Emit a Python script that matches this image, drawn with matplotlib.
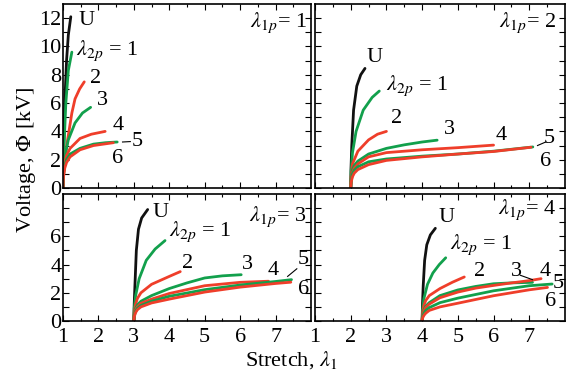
import numpy as np
import matplotlib
matplotlib.use("Agg")
import matplotlib.pyplot as plt

plt.rcParams['font.family'] = ['Liberation Serif', 'DejaVu Serif']
plt.rcParams['mathtext.fontset'] = 'stix'

BLACK = '#111111'
GREEN = '#12a04c'
RED = '#ef3e2a'

# curve order: U, 1, 2, 3, 4, 5, 6
names = ['U', '1', '2', '3', '4', '5', '6']
colors = [BLACK, GREEN, RED, GREEN, RED, GREEN, RED]

# lambda_1p = 1
p1_lam = [
    [1.0, 1.01, 1.03, 1.05, 1.1, 1.15, 1.22],
    [1.0, 1.01, 1.03, 1.08, 1.15, 1.25],
    [1.0, 1.01, 1.05, 1.13, 1.25, 1.34, 1.47, 1.6],
    [1.0, 1.01, 1.05, 1.15, 1.34, 1.55, 1.78],
    [1.0, 1.01, 1.05, 1.1, 1.2, 1.48, 1.8, 2.19],
    [1.0, 1.01, 1.05, 1.1, 1.2, 1.48, 1.86, 2.2, 2.53],
    [1.0, 1.01, 1.05, 1.1, 1.2, 1.48, 1.86, 2.42],
]
p1_phi = [
    [0, 1.5, 4, 6, 9, 10.8, 12.1],
    [0, 1.3, 3, 6, 8.3, 9.6],
    [0, 1.0, 2, 3.4, 5.3, 6.3, 7.0, 7.5],
    [0, 1.0, 2.2, 3.4, 4.6, 5.3, 5.7],
    [0, 0.9, 1.8, 2.3, 2.8, 3.5, 3.8, 4.0],
    [0, 0.8, 1.6, 2.0, 2.4, 2.8, 3.1, 3.2, 3.25],
    [0, 0.7, 1.4, 1.8, 2.2, 2.7, 3.0, 3.2],
]

# lambda_1p = 2
p2_lam = [
    [2.0, 2.01, 2.03, 2.08, 2.17, 2.28, 2.4],
    [2.0, 2.01, 2.05, 2.15, 2.35, 2.6, 2.8],
    [2.0, 2.01, 2.05, 2.2, 2.5, 2.75, 3.0],
    [2.0, 2.01, 2.05, 2.1, 2.2, 2.5, 3.0, 3.5, 4.0, 4.42],
    [2.0, 2.01, 2.05, 2.1, 2.2, 2.5, 3.0, 4.0, 5.0, 6.0],
    [2.0, 2.01, 2.05, 2.1, 2.2, 2.5, 3.0, 4.0, 5.0, 6.0, 7.1],
    [2.0, 2.01, 2.05, 2.1, 2.2, 2.5, 3.0, 4.0, 5.0, 6.0, 7.05],
]
p2_phi = [
    [0, 1.5, 3, 5.5, 7.2, 8.0, 8.45],
    [0, 1.2, 2.5, 4.0, 5.5, 6.4, 6.85],
    [0, 0.8, 1.7, 2.6, 3.4, 3.8, 4.0],
    [0, 0.6, 1.3, 1.6, 1.9, 2.4, 2.8, 3.05, 3.25, 3.38],
    [0, 0.5, 1.1, 1.4, 1.7, 2.2, 2.5, 2.7, 2.85, 3.03],
    [0, 0.45, 1.0, 1.25, 1.5, 1.85, 2.05, 2.25, 2.4, 2.6, 2.9],
    [0, 0.4, 0.8, 1.05, 1.3, 1.65, 1.95, 2.2, 2.4, 2.58, 2.88],
]

# lambda_1p = 3
p3_lam = [
    [3.0, 3.01, 3.03, 3.07, 3.13, 3.22, 3.39],
    [3.0, 3.01, 3.05, 3.15, 3.35, 3.6, 3.88],
    [3.0, 3.01, 3.05, 3.1, 3.2, 3.5, 4.0, 4.31],
    [3.0, 3.01, 3.05, 3.1, 3.2, 3.5, 4.0, 4.5, 5.0, 5.5, 6.03],
    [3.0, 3.01, 3.05, 3.1, 3.2, 3.5, 4.0, 5.0, 6.0, 6.8],
    [3.0, 3.01, 3.05, 3.1, 3.2, 3.5, 4.0, 5.0, 6.0, 7.0, 7.45],
    [3.0, 3.01, 3.05, 3.1, 3.2, 3.5, 4.0, 5.0, 6.0, 7.0, 7.43],
]
p3_phi = [
    [0, 1.2, 2.5, 5, 6.5, 7.3, 7.9],
    [0, 0.9, 1.8, 3.0, 4.3, 5.1, 5.7],
    [0, 0.6, 1.2, 1.6, 2.0, 2.6, 3.16, 3.5],
    [0, 0.45, 0.9, 1.15, 1.4, 1.8, 2.3, 2.7, 3.05, 3.2, 3.28],
    [0, 0.4, 0.8, 1.0, 1.25, 1.55, 1.95, 2.5, 2.74, 2.82],
    [0, 0.35, 0.7, 0.9, 1.1, 1.4, 1.75, 2.22, 2.55, 2.8, 2.93],
    [0, 0.3, 0.6, 0.8, 1.0, 1.28, 1.55, 2.05, 2.4, 2.66, 2.75],
]

# lambda_1p = 4
p4_lam = [
    [4.0, 4.01, 4.03, 4.07, 4.13, 4.23, 4.37],
    [4.0, 4.01, 4.05, 4.15, 4.3, 4.48, 4.66],
    [4.0, 4.01, 4.05, 4.1, 4.2, 4.5, 4.85, 5.18],
    [4.0, 4.01, 4.05, 4.1, 4.2, 4.5, 5.0, 5.5, 6.0, 6.5, 7.09],
    [4.0, 4.01, 4.05, 4.1, 4.2, 4.5, 5.0, 5.5, 6.0, 6.5, 7.0, 7.33],
    [4.0, 4.01, 4.05, 4.1, 4.2, 4.5, 5.0, 6.0, 7.0, 7.64],
    [4.0, 4.01, 4.05, 4.1, 4.2, 4.5, 5.0, 6.0, 7.0, 7.51],
]
p4_phi = [
    [0, 1.2, 2.5, 4.3, 5.4, 6.1, 6.57],
    [0, 0.8, 1.6, 2.6, 3.4, 4.0, 4.48],
    [0, 0.55, 1.1, 1.45, 1.8, 2.3, 2.75, 3.12],
    [0, 0.4, 0.8, 1.05, 1.3, 1.8, 2.2, 2.45, 2.64, 2.7, 2.74],
    [0, 0.35, 0.7, 0.95, 1.2, 1.65, 2.05, 2.33, 2.52, 2.7, 2.86, 3.0],
    [0, 0.28, 0.55, 0.75, 0.95, 1.3, 1.62, 2.14, 2.5, 2.62],
    [0, 0.2, 0.4, 0.55, 0.75, 1.0, 1.26, 1.79, 2.21, 2.38],
]

# curve label texts and positions (lambda, phi)
lbl_text = ['U', r'$\lambda_{2p}$ = 1', '2', '3', '4', '5', '6']
p1_lbl = [(1.45, 11.8), (1.37, 9.7), (1.76, 7.75), (1.96, 6.2), (2.39, 4.4), (2.95, 3.25), (2.39, 2.1)]
p2_lbl = [(2.43, 9.2), (3.0, 7.25), (3.14, 4.9), (4.6, 4.1), (6.06, 3.7), (7.4, 3.5), (7.31, 1.85)]
p3_lbl = [(3.52, 7.7), (4.0, 6.35), (4.37, 4.07), (6.04, 4.0), (6.78, 3.57), (7.63, 4.36), (7.63, 2.2)]
p4_lbl = [(4.46, 7.35), (4.77, 5.4), (5.46, 3.5), (6.49, 3.5), (7.29, 3.5), (7.66, 2.64), (7.43, 1.36)]

# leader lines ((x0, y0), (x1, y1))
p1_lead = [((2.68, 3.25), (2.9, 3.28))]
p2_lead = [((7.23, 3.0), (7.46, 3.25))]
p3_lead = [((7.34, 3.16), (7.6, 3.7))]
p4_lead = [((6.75, 3.24), (7.09, 2.93))]

panel_lam1p = [1, 2, 3, 4]
panel_title_pos = [(7.88, 11.7), (7.75, 11.7), (7.88, 7.4), (7.75, 7.9)]

xticks = [1, 2, 3, 4, 5, 6, 7]

fig = plt.figure(figsize=(5.67, 3.78), dpi=100)
W, H = 567, 378
boxes = [(63, 4, 311, 188), (315, 4, 565, 188), (63, 194, 311, 321), (315, 194, 565, 321)]

all_lam = [p1_lam, p2_lam, p3_lam, p4_lam]
all_phi = [p1_phi, p2_phi, p3_phi, p4_phi]
all_lbl = [p1_lbl, p2_lbl, p3_lbl, p4_lbl]
all_lead = [p1_lead, p2_lead, p3_lead, p4_lead]

FS = 16
for k in range(4):
    x0, y0, x1, y1 = boxes[k]
    ax = fig.add_axes([x0 / W, 1 - y1 / H, (x1 - x0) / W, (y1 - y0) / H])
    for lam, phi, c in zip(all_lam[k], all_phi[k], colors):
        ax.plot(lam, phi, color=c, lw=2.0, solid_capstyle='round', solid_joinstyle='round')
    for (tx, ty), t in zip(all_lbl[k], lbl_text):
        ax.text(tx, ty, t, fontsize=FS, ha='left', va='center')
    for (a, b) in all_lead[k]:
        ax.plot([a[0], b[0]], [a[1], b[1]], color='k', lw=0.8)
    tx, ty = panel_title_pos[k]
    ax.text(tx, ty, r'$\lambda_{1p}$= %d' % panel_lam1p[k], fontsize=FS, ha='right', va='center')

    ax.set_xlim(1, 8)
    ax.set_xticks(xticks)
    ax.set_xticks(np.arange(1.5, 8, 1.0), minor=True)
    if k < 2:
        ax.set_ylim(0, 13)
        ax.set_yticks(range(0, 13))
        ylabels = [str(v) if v % 2 == 0 else '' for v in range(0, 13)]
    else:
        ax.set_ylim(0, 9)
        ax.set_yticks(range(0, 9))
        ylabels = [str(v) if v % 2 == 0 and v < 8 else '' for v in range(0, 9)]
    if k % 2 == 0:
        ax.set_yticklabels(ylabels)
    else:
        ax.set_yticklabels([])
    if k < 2:
        ax.set_xticklabels([])
    ax.tick_params(which='both', direction='in', top=True, right=True, labelsize=FS)
    ax.tick_params(axis='y', pad=1)
    ax.tick_params(axis='x', pad=5)
    ax.tick_params(which='major', length=4, width=0.8)
    ax.tick_params(which='minor', length=2.5, width=0.8)
    for s in ax.spines.values():
        s.set_linewidth(1.2)

fig.text(27 / W, 1 - 160 / H, r'Voltage, $\Phi$ [kV]', rotation=90, fontsize=FS, ha='center', va='center')
fig.text(291 / W, 1 - 360 / H, r'Stretch, $\lambda_1$', fontsize=FS, ha='center', va='center')

fig.savefig('out.png', dpi=100)
